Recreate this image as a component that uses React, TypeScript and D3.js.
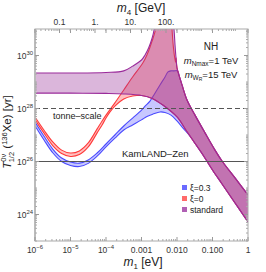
import React from 'react';
import * as d3 from 'd3';

// all edges are [log10 m1 (eV), log10 T (yr)]
const stdHighLeft = [[-6, 29.34], [-5, 29.34], [-4, 29.36], [-3.5, 29.42], [-3.25, 29.6], [-3.0, 29.83], [-2.9, 30.02], [-2.8, 30.28], [-2.7, 30.66], [-2.64, 31.0], [-2.6, 31.4]];
const stdHighRight = [[-2.12, 31.4], [-2.085, 31.0], [-2.056, 30.4], [-2.028, 29.91], [-2.0, 29.53], [-1.944, 29.26], [-1.859, 28.89], [-1.718, 28.32], [-1.493, 27.75], [-1.211, 27.08], [-0.93, 26.43], [-0.732, 26.02], [-0.366, 25.38], [0, 24.74]];
const stdLow = [[-6, 28.58], [-5, 28.58], [-4, 28.57], [-3.5, 28.55], [-3.0, 28.49], [-2.7, 28.38], [-2.4, 28.13], [-2.0, 27.68], [-1.75, 27.19], [-1.5, 26.7], [-1.25, 26.21], [-1.0, 25.68], [-0.75, 25.19], [-0.5, 24.7], [-0.25, 24.21], [0, 23.72]];

const redHigh = [[-6, 27.68], [-5.75, 27.19], [-5.5, 26.74], [-5.25, 26.43], [-5.0, 26.32], [-4.75, 26.4], [-4.5, 26.7], [-4.25, 27.23], [-4.11, 27.53], [-4.0, 27.75], [-3.75, 28.21], [-3.5, 28.7], [-3.25, 29.19], [-3.0, 29.64], [-2.9, 29.87], [-2.8, 30.17], [-2.7, 30.55], [-2.6, 31.0], [-2.57, 31.4], [-2.16, 31.4], [-2.141, 31.0], [-2.099, 30.28], [-2.042, 29.75]];
const redLow = [[-6, 27.57], [-5.75, 27.08], [-5.5, 26.6], [-5.25, 26.3], [-5.0, 26.19], [-4.75, 26.26], [-4.5, 26.55], [-4.25, 27.08], [-4.11, 27.38], [-4.0, 27.64], [-3.887, 27.87], [-3.75, 28.09], [-3.5, 28.36], [-3.25, 28.47], [-3.125, 28.49]];

const blueHigh = [[-6, 27.49], [-5.75, 26.96], [-5.5, 26.47], [-5.25, 26.13], [-5.0, 25.98], [-4.75, 25.94], [-4.5, 26.06], [-4.25, 26.32], [-4.0, 26.66], [-3.75, 27.0], [-3.5, 27.34], [-3.25, 27.64], [-3.0, 27.94], [-2.9, 28.09], [-2.761, 28.28], [-2.634, 28.55], [-2.479, 28.89], [-2.338, 29.19], [-2.254, 29.38], [-2.169, 29.42], [-2.085, 29.42], [-1.986, 29.42]];
const blueLow = [[-6, 27.35], [-5.75, 26.82], [-5.5, 26.33], [-5.25, 26.0], [-5.0, 25.85], [-4.75, 25.81], [-4.5, 25.93], [-4.25, 26.2], [-4.0, 26.55], [-3.75, 26.88], [-3.5, 27.19], [-3.25, 27.38], [-3.0, 27.57], [-2.845, 27.7], [-2.676, 27.79], [-2.479, 27.87], [-2.338, 27.85], [-2.169, 27.75], [-2.0, 27.53], [-1.831, 27.26], [-1.634, 26.96]];

const bottomTicks = [1e-6, 1e-5, 1e-4, 0.001, 0.01, 0.1, 1];
const bottomLabels = ['10|-6', '10|-5', '10|-4', '0.001', '0.010', '0.100', '1'];
const leftTicks = [1e24, 1e26, 1e28, 1e30];
const leftLabels = ['10|24', '10|26', '10|28', '10|30'];
const topTicks = [0.1, 1, 10, 100];
const topLabels = ['0.1', '1.', '10.', '100.'];

const limits = [
  { T: 1e28, name: 'tonne\u2013scale', dash: '5,3' },
  { T: 1e26, name: 'KamLAND\u2013Zen', dash: null },
];

const M4_PER_M1 = 1000 / 0.049; // m4 [GeV] per m1 [eV]

const bands = [
  { name: '\u03be=0.3', fill: 'rgba(80,80,255,0.32)', stroke: '#4a4aff', swatch: '#6a6aff' },
  { name: '\u03be=0', fill: 'rgba(255,60,60,0.32)', stroke: '#ff3a3a', swatch: '#ff6a6a' },
  { name: 'standard', fill: 'rgba(150,40,150,0.34)', stroke: '#9a2a9a', swatch: '#b060b4' },
];

const font = 'Liberation Sans, Arial, sans-serif';

const TickText = ({ label, x, y, anchor, size = 8.5 }) => {
  const [base, sup] = label.split('|');
  return (
    <text x={x} y={y} textAnchor={anchor} fontSize={size} fill="#333" fontFamily={font}>
      {base}
      {sup && <tspan dy={-4} fontSize={size * 0.7}>{sup.replace('-', '\u2212')}</tspan>}
    </text>
  );
};

export default function App() {
  const L = 35, R = 248, T = 29, B = 241;
  const x = d3.scaleLog().domain([1e-6, 1]).range([L, R]);
  const y = d3.scaleLog().domain([1e23, 1e31]).range([B, T]);
  const xTop = d3.scaleLog().domain([1e-6 * M4_PER_M1, M4_PER_M1]).range([L, R]);

  const line = d3.line().x(d => x(10 ** d[0])).y(d => y(10 ** d[1])).curve(d3.curveCatmullRom.alpha(0.5));

  const after = (arr, l) => arr.filter(d => d[0] > l);
  const edges = [
    { hi: blueHigh.concat(after(stdHighRight, -1.986)), lo: blueLow.concat(after(stdLow, -1.634)) },
    { hi: redHigh.concat(after(stdHighRight, -2.042)), lo: redLow.concat(after(stdLow, -3.125)) },
    { hi: stdHighLeft.concat(stdHighRight), lo: stdLow },
  ];

  const area = (e) => line(e.hi) + 'L' + line(e.lo.slice().reverse()).slice(1) + 'Z';

  const minorBottom = [];
  for (let e = -6; e < 0; e++) for (let k = 2; k < 10; k++) minorBottom.push(k * 10 ** e);
  const minorLeft = [];
  for (let e = 23; e < 31; e++) for (let k = 1; k < 10; k++) if (!(k === 1 && e % 2 === 0)) minorLeft.push(k * 10 ** e);
  const minorTop = [];
  for (let e = -2; e < 4; e++) for (let k = 1; k < 10; k++) {
    const v = k * 10 ** e;
    if (v > xTop.domain()[0] && v < xTop.domain()[1] && !topTicks.includes(v)) minorTop.push(v);
  }

  return (
    <svg width={266} height={272} style={{ position: 'absolute', left: 0, top: 0 }}>
      <defs>
        <clipPath id="plot"><rect x={L} y={T} width={R - L} height={B - T} /></clipPath>
      </defs>
      <rect x={0} y={0} width={266} height={272} fill="#fff" />

      <g clipPath="url(#plot)">
        {edges.map((e, i) => (
          <g key={i}>
            <path d={area(e)} fill={bands[i].fill} stroke="none" />
            <path d={line(e.hi)} fill="none" stroke={bands[i].stroke} strokeWidth={1.1} />
            <path d={line(e.lo)} fill="none" stroke={bands[i].stroke} strokeWidth={1.1} />
          </g>
        ))}
        {limits.map(l => (
          <line key={l.name} x1={L} x2={R} y1={y(l.T)} y2={y(l.T)} stroke="#555" strokeWidth={1} strokeDasharray={l.dash || undefined} />
        ))}
      </g>

      <text x={53} y={y(1e28) + 10} fontSize={9} fill="#222" fontFamily={font}>{limits[0].name}</text>
      <text x={122} y={y(1e26) - 5} fontSize={9.5} fill="#222" fontFamily={font}>{limits[1].name}</text>

      {/* frame */}
      <rect x={L} y={T} width={R - L} height={B - T} fill="none" stroke="#aaa" strokeWidth={1} />
      <line x1={L} x2={L} y1={T} y2={B} stroke="#bbb" strokeWidth={2} />

      {bottomTicks.map((v, i) => (
        <g key={v}>
          <line x1={x(v)} x2={x(v)} y1={B} y2={B - 4} stroke="#999" />
          <line x1={x(v)} x2={x(v)} y1={T} y2={T + 4} stroke="#999" />
          <TickText label={bottomLabels[i]} x={x(v)} y={253} anchor="middle" />
        </g>
      ))}
      {minorBottom.map(v => (
        <line key={v} x1={x(v)} x2={x(v)} y1={B} y2={B - 2} stroke="#aaa" />
      ))}
      {leftTicks.map((v, i) => (
        <g key={v}>
          <line x1={L} x2={L + 4} y1={y(v)} y2={y(v)} stroke="#999" />
          <line x1={R} x2={R - 4} y1={y(v)} y2={y(v)} stroke="#999" />
          <TickText label={leftLabels[i]} x={33} y={y(v) + 3} anchor="end" />
        </g>
      ))}
      {minorLeft.map(v => (
        <g key={v}>
          <line x1={L} x2={L + 2} y1={y(v)} y2={y(v)} stroke="#aaa" />
          <line x1={R} x2={R - 2} y1={y(v)} y2={y(v)} stroke="#aaa" />
        </g>
      ))}
      {topTicks.map((v, i) => (
        <g key={v}>
          <line x1={xTop(v)} x2={xTop(v)} y1={T} y2={T + 4} stroke="#999" />
          <TickText label={topLabels[i]} x={xTop(v)} y={25} anchor="middle" />
        </g>
      ))}
      {minorTop.map(v => (
        <line key={v} x1={xTop(v)} x2={xTop(v)} y1={T} y2={T + 2} stroke="#aaa" />
      ))}

      {/* axis titles */}
      <text x={141} y={12} textAnchor="middle" fontSize={12} fill="#222" fontFamily={font}>
        <tspan fontStyle="italic">m</tspan><tspan fontSize={8} dy={3}>4</tspan><tspan dy={-3}> [GeV]</tspan>
      </text>
      <text x={143} y={266} textAnchor="middle" fontSize={12} fill="#222" fontFamily={font}>
        <tspan fontStyle="italic">m</tspan><tspan fontSize={8} dy={3}>1</tspan><tspan dy={-3}> [eV]</tspan>
      </text>
      <text transform="translate(11,132) rotate(-90)" textAnchor="middle" fontSize={11.5} fill="#222" fontFamily={font}>
        <tspan fontStyle="italic">T</tspan>
        <tspan fontSize={7.5} dy={-5}>0{'\u03bd'}</tspan>
        <tspan fontSize={7.5} dx={-8.5} dy={8}>1/2</tspan>
        <tspan dy={-3}> (</tspan>
        <tspan fontSize={7.5} dy={-4}>136</tspan>
        <tspan dy={4}>Xe) [yr]</tspan>
      </text>

      {/* annotation */}
      <text x={211} y={50} textAnchor="middle" fontSize={10} fill="#222" fontFamily={font}>NH</text>
      <text x={211} y={64} textAnchor="middle" fontSize={9.5} fill="#222" fontFamily={font}>
        <tspan fontStyle="italic">m</tspan><tspan fontSize={6.5} dy={2}>Nmax</tspan><tspan dy={-2}>=1 TeV</tspan>
      </text>
      <text x={211} y={78} textAnchor="middle" fontSize={9.5} fill="#222" fontFamily={font}>
        <tspan fontStyle="italic">m</tspan><tspan fontSize={6.5} dy={2}>W</tspan><tspan fontSize={5} dy={1}>R</tspan><tspan dy={-3}>=15 TeV</tspan>
      </text>

      {/* legend */}
      {bands.map((b, i) => (
        <g key={b.name}>
          <rect x={182} y={185 + i * 11} width={5} height={5} fill={b.swatch} />
          <text x={190} y={190.5 + i * 11} fontSize={8.5} fill="#222" fontFamily={font}>{b.name}</text>
        </g>
      ))}
    </svg>
  );
}
